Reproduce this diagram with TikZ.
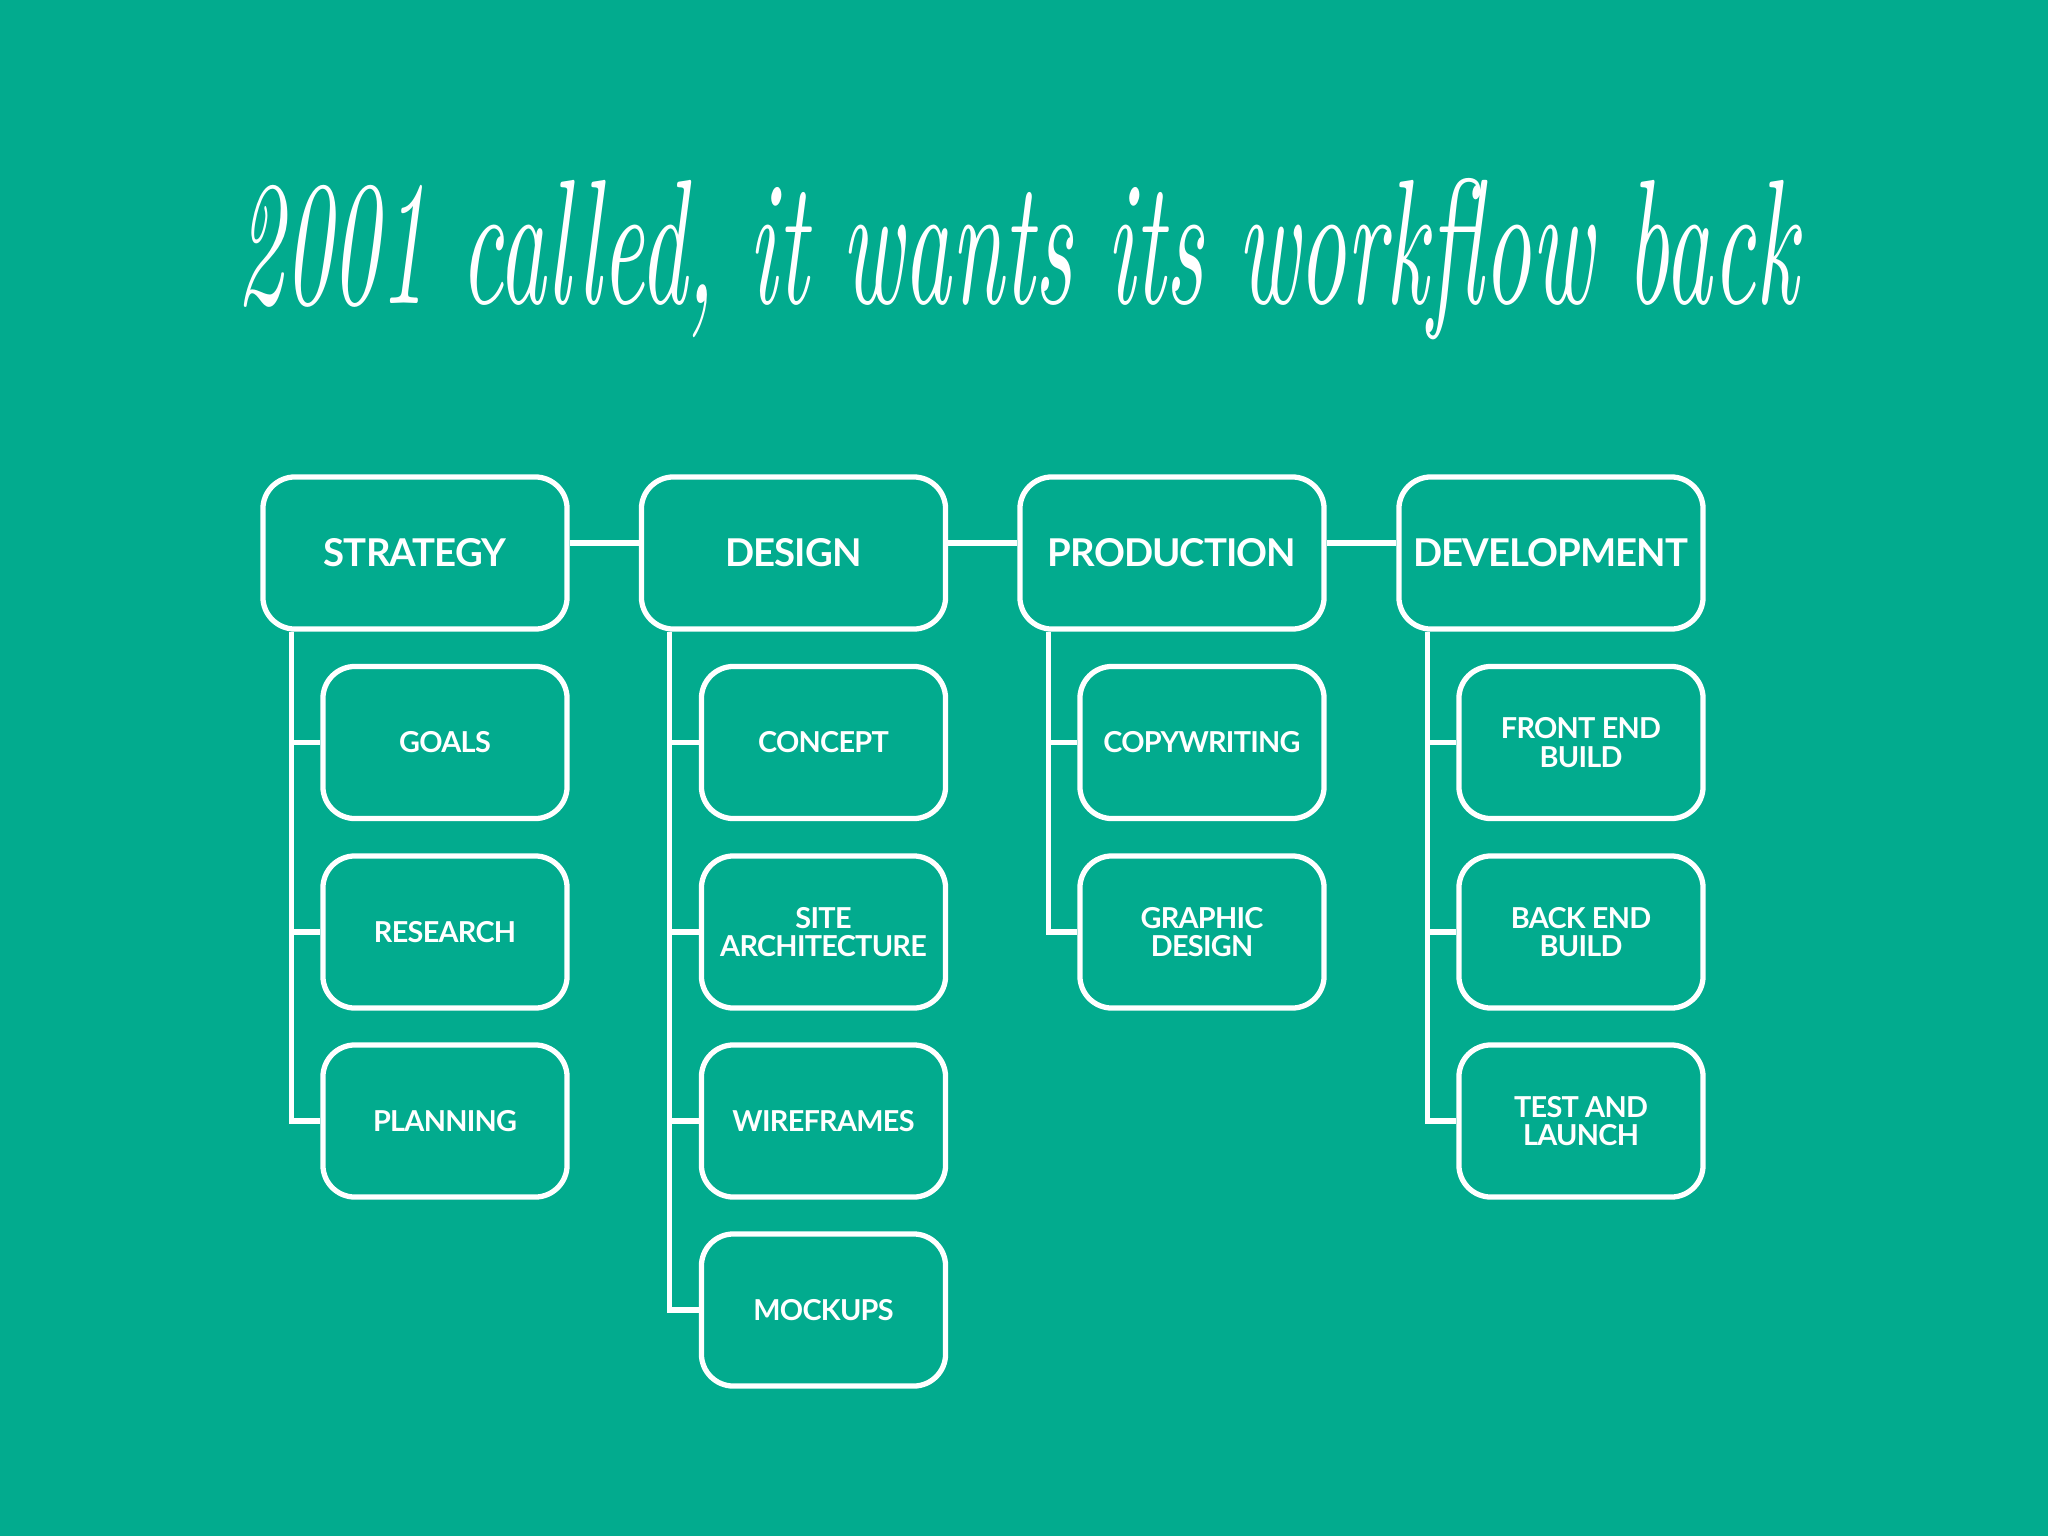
\documentclass[tikz,border=0pt]{standalone}
\usepackage{fontspec}
\setsansfont{Lato}[LetterSpace=-2.5]
\newfontfamily\titlefont{Latin Modern Roman}
\usetikzlibrary{positioning}
\definecolor{bg}{HTML}{02AB8E}
\tikzset{
  headbox/.style={draw=white, line width=1.5pt, rounded corners=3.2mm, minimum width=3.04cm, minimum height=1.52cm, inner sep=0pt, text=white, font=\sffamily\bfseries\fontsize{10.9}{12}\selectfont, align=center},
  subbox/.style={draw=white, line width=1.5pt, rounded corners=3.2mm, minimum width=2.44cm, minimum height=1.52cm, inner sep=0pt, text=white, font=\sffamily\bfseries\fontsize{8.2}{8}\selectfont, align=center},
  link/.style={draw=white, line width=1.5pt}
}
\begin{document}
\begin{tikzpicture}[x=0.01cm,y=-0.01cm]
\fill[bg] (0,0) rectangle (2048,1536);
\useasboundingbox (0,0) rectangle (2048,1536);
\node[text=white, anchor=base west, inner sep=0pt] (title) at (236,303) {\resizebox{15.6cm}{1.25cm}{\titlefont\itshape 2001 called, it wants its workflow back}};
% headers
\node[headbox] (h1) at (415,553) {STRATEGY};
\node[headbox] (h2) at (793.5,553) {DESIGN};
\node[headbox] (h3) at (1172,553) {PRODUCTION};
\node[headbox] (h4) at (1551,553) {DEVELOPMENT};
% sub boxes
\node[subbox] (s11) at (445,742.5) {GOALS};
\node[subbox] (s12) at (445,932) {RESEARCH};
\node[subbox] (s13) at (445,1121) {PLANNING};
\node[subbox] (s21) at (823.5,742.5) {CONCEPT};
\node[subbox] (s22) at (823.5,932) {SITE\\ARCHITECTURE};
\node[subbox] (s23) at (823.5,1121) {WIREFRAMES};
\node[subbox] (s24) at (823.5,1310) {MOCKUPS};
\node[subbox] (s31) at (1202,742.5) {COPYWRITING};
\node[subbox] (s32) at (1202,932) {GRAPHIC\\DESIGN};
\node[subbox] (s41) at (1581,742.5) {FRONT END\\BUILD};
\node[subbox] (s42) at (1581,932) {BACK END\\BUILD};
\node[subbox] (s43) at (1581,1121) {TEST AND\\LAUNCH};
% header links
\draw[link] ([yshift=0.1cm]h1.east) -- ([yshift=0.1cm]h2.west);
\draw[link] ([yshift=0.1cm]h2.east) -- ([yshift=0.1cm]h3.west);
\draw[link] ([yshift=0.1cm]h3.east) -- ([yshift=0.1cm]h4.west);
% trunks
\draw[link] ([xshift=0.31cm]h1.south west) |- (s13.west);
\draw[link] ([xshift=0.31cm]h1.south west |- s11.west) -- (s11.west);
\draw[link] ([xshift=0.31cm]h1.south west |- s12.west) -- (s12.west);
\draw[link] ([xshift=0.31cm]h2.south west) |- (s24.west);
\draw[link] ([xshift=0.31cm]h2.south west |- s21.west) -- (s21.west);
\draw[link] ([xshift=0.31cm]h2.south west |- s22.west) -- (s22.west);
\draw[link] ([xshift=0.31cm]h2.south west |- s23.west) -- (s23.west);
\draw[link] ([xshift=0.31cm]h3.south west) |- (s32.west);
\draw[link] ([xshift=0.31cm]h3.south west |- s31.west) -- (s31.west);
\draw[link] ([xshift=0.31cm]h4.south west) |- (s43.west);
\draw[link] ([xshift=0.31cm]h4.south west |- s41.west) -- (s41.west);
\draw[link] ([xshift=0.31cm]h4.south west |- s42.west) -- (s42.west);
\end{tikzpicture}
\end{document}
